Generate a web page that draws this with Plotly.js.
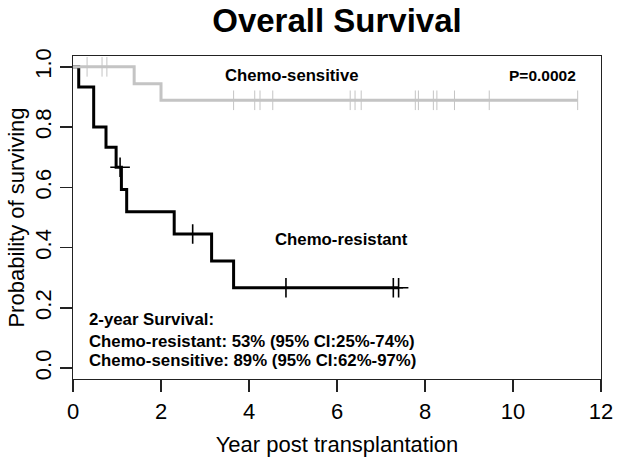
<!DOCTYPE html>
<html>
<head>
<meta charset="utf-8">
<script src="https://cdn.plot.ly/plotly-3.0.1.min.js"></script>
<style>html,body{margin:0;padding:0;background:#fff;}#chart{width:619px;height:462px;}</style>
</head>
<body>
<div id="chart"></div>
<script>
// Chemo-resistant: Kaplan-Meier step times (years) and survival after each step
const resistantTimes = [0, 0.13, 0.47, 0.75, 0.98, 1.10, 1.22, 2.30, 3.15, 3.65, 7.40];
const resistantSurv  = [1.0, 0.933, 0.800, 0.733, 0.667, 0.593, 0.519, 0.445, 0.356, 0.267, 0.267];
const resistantCensor = [1.07, 2.72, 4.84, 7.28, 7.40];

// Chemo-sensitive
const sensitiveTimes = [0, 1.39, 2.00, 11.47];
const sensitiveSurv  = [1.0, 0.944, 0.889, 0.889];
const sensitiveCensor = [0.32, 0.66, 0.77, 3.65, 4.13, 4.25, 4.54, 6.30, 6.41, 6.55, 7.78, 7.85, 8.19, 8.27, 8.67, 9.46, 11.47];

const xTicks = [0, 2, 4, 6, 8, 10, 12];
const yTicks = [0, 0.2, 0.4, 0.6, 0.8, 1.0];
const yTickText = ["0.0", "0.2", "0.4", "0.6", "0.8", "1.0"];

const summaryLines = [
  "2-year Survival:",
  "Chemo-resistant: 53% (95% CI:25%-74%)",
  "Chemo-sensitive: 89% (95% CI:62%-97%)"
];

function survAt(times, surv, t) {
  let s = surv[0];
  for (let i = 0; i < times.length; i++) { if (times[i] <= t) s = surv[i]; }
  return s;
}

const FONT = "Liberation Sans, Arial, Helvetica, sans-serif";
const BLACK = "#000000";
const GRAY = "#c4c4c4";

const traces = [
  { x: resistantTimes, y: resistantSurv, mode: "lines", line: { shape: "hv", color: BLACK, width: 3 }, hoverinfo: "skip" },
  { x: resistantCensor, y: resistantCensor.map(t => survAt(resistantTimes, resistantSurv, t)), mode: "markers",
    marker: { symbol: "cross-thin", size: 14, color: BLACK, line: { color: BLACK, width: 1.6 } }, hoverinfo: "skip" },
  { x: sensitiveTimes, y: sensitiveSurv, mode: "lines", line: { shape: "hv", color: GRAY, width: 3 }, hoverinfo: "skip" },
  { x: sensitiveCensor, y: sensitiveCensor.map(t => survAt(sensitiveTimes, sensitiveSurv, t)), mode: "markers",
    marker: { symbol: "line-ns", size: 14, color: GRAY, line: { color: GRAY, width: 1 } }, hoverinfo: "skip" }
];

const summaryY = [0.160, 0.090, 0.026];

const annotations = [
  { x: 4.97, y: 0.972, xref: "x", yref: "y", text: "<b>Chemo-sensitive</b>", showarrow: false,
    xanchor: "center", yanchor: "middle", font: { size: 16.7, family: FONT, color: "#000" } },
  { x: 11.48, y: 0.972, xref: "x", yref: "y", text: "<b>P=0.0002</b>", showarrow: false,
    xanchor: "right", yanchor: "middle", font: { size: 15.5, family: FONT, color: "#000" } },
  { x: 6.10, y: 0.427, xref: "x", yref: "y", text: "<b>Chemo-resistant</b>", showarrow: false,
    xanchor: "center", yanchor: "middle", font: { size: 16.8, family: FONT, color: "#000" } }
];
summaryLines.forEach((s, i) => annotations.push({
  x: 0.32, y: summaryY[i], xref: "x", yref: "y", text: "<b>" + s + "</b>", showarrow: false,
  xanchor: "left", yanchor: "middle", font: { size: 16.8, family: FONT, color: "#000" }
}));

const layout = {
  width: 619, height: 462,
  margin: { l: 73, r: 18, t: 56, b: 83, pad: 0 },
  paper_bgcolor: "#ffffff", plot_bgcolor: "#ffffff",
  showlegend: false,
  font: { family: FONT, color: "#000" },
  title: { text: "<b>Overall Survival</b>", font: { size: 33, family: FONT, color: "#000" },
           x: 0.5, xref: "paper", xanchor: "center", y: 1 - 20 / 462, yref: "container", yanchor: "middle" },
  xaxis: {
    range: [0, 12], tickvals: xTicks, ticktext: xTicks.map(String),
    ticks: "outside", ticklen: 12, tickwidth: 1.3, tickcolor: "#222",
    showline: true, linecolor: "#222", linewidth: 1.3, mirror: true,
    showgrid: false, zeroline: false,
    tickfont: { size: 22, family: FONT, color: "#000" },
    title: { text: "Year post transplantation", font: { size: 22, family: FONT, color: "#000" }, standoff: 14 }
  },
  yaxis: {
    range: [-0.036, 1.036], tickvals: yTicks, ticktext: yTickText, tickangle: -90,
    ticks: "outside", ticklen: 12, tickwidth: 1.3, tickcolor: "#222",
    showline: true, linecolor: "#222", linewidth: 1.3, mirror: true,
    showgrid: false, zeroline: false,
    tickfont: { size: 22, family: FONT, color: "#000" },
    title: { text: "Probability of surviving", font: { size: 22, family: FONT, color: "#000" }, standoff: 0 }
  },
  annotations: annotations
};

Plotly.newPlot("chart", traces, layout, { staticPlot: true, displayModeBar: false });
</script>
</body>
</html>
